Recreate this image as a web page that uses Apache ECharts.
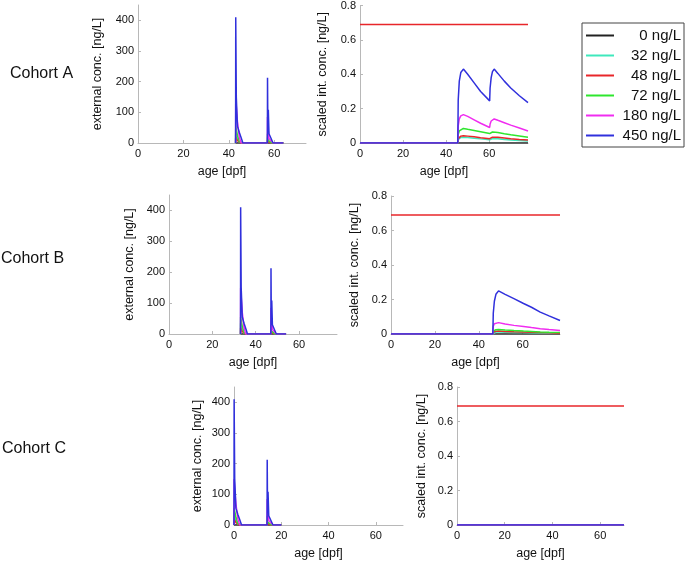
<!DOCTYPE html>
<html><head><meta charset="utf-8">
<script src="https://cdn.jsdelivr.net/npm/echarts@6/dist/echarts.min.js"></script>
<style>html,body{margin:0;padding:0;background:#fff}#c{width:685px;height:561px}</style>
</head><body><div id="c"></div>
<script>
// ---- legend / series ----
const seriesNames = ['0 ng/L', '32 ng/L', '48 ng/L', '72 ng/L', '180 ng/L', '450 ng/L'];
const seriesColors = ['#222222', '#3fe8bc', '#e8262a', '#2ee62e', '#f02cf0', '#3030dc'];
const cohortLabels = ['Cohort A', 'Cohort B', 'Cohort C'];

// ---- external concentration (left panels) ----
const extAgeA = [43, 43.05, 43.3, 43.8, 44.6, 45.4, 46.2, 57, 57.05, 57.2, 57.4, 57.7, 58.5, 59.5, 64];
const extAgeB = [33, 33.05, 33.3, 33.8, 34.6, 35.4, 36.2, 47, 47.05, 47.2, 47.4, 47.7, 48.5, 49.5, 54];
const extAgeC = [0, 0.05, 0.3, 0.8, 1.6, 2.4, 3.2, 14, 14.05, 14.2, 14.4, 14.7, 15.5, 16.5, 20];
const ext0   = [0, 0, 0, 0, 0, 0, 0, 0, 0, 0, 0, 0, 0, 0, 0];
const ext32  = [0, 35, 28, 15, 3, 0, 0, 0, 18, 6, 9, 3, 1, 0, 0];
const ext48  = [0, 20, 15, 8, 2, 0, 0, 0, 10, 4, 5, 2, 1, 0, 0];
const ext72  = [0, 55, 45, 25, 5, 0, 0, 0, 30, 10, 15, 5, 2, 0, 0];
const ext180 = [0, 150, 120, 70, 20, 0, 0, 0, 85, 30, 40, 15, 8, 0, 0];
const ext450 = [0, 410, 150, 55, 35, 18, 0, 0, 213, 40, 108, 30, 25, 0, 0];

// ---- scaled internal concentration (right panels) ----
const intAgeA = [0, 45.4, 45.6, 46.1, 46.8, 48, 50, 53, 56, 60.2, 60.4, 60.9, 61.5, 62.3, 64, 67, 70, 74, 78];
const int0A   = [0, 0, 0, 0, 0, 0, 0, 0, 0, 0, 0, 0, 0, 0, 0, 0, 0, 0, 0];
const int32A  = [0, 0, 0.02, 0.028, 0.032, 0.034, 0.032, 0.028, 0.024, 0.019, 0.021, 0.024, 0.026, 0.027, 0.025, 0.021, 0.018, 0.014, 0.011];
const int48A  = [0, 0, 0.025, 0.035, 0.04, 0.042, 0.04, 0.036, 0.031, 0.025, 0.028, 0.032, 0.034, 0.035, 0.033, 0.029, 0.025, 0.021, 0.018];
const int72A  = [0, 0, 0.05, 0.07, 0.08, 0.085, 0.08, 0.073, 0.066, 0.055, 0.058, 0.062, 0.064, 0.065, 0.061, 0.054, 0.048, 0.041, 0.034];
const int180A = [0, 0, 0.1, 0.14, 0.158, 0.165, 0.155, 0.135, 0.115, 0.09, 0.11, 0.128, 0.136, 0.14, 0.132, 0.118, 0.104, 0.087, 0.07];
const int450A = [0, 0, 0.25, 0.36, 0.41, 0.43, 0.40, 0.35, 0.30, 0.245, 0.32, 0.38, 0.415, 0.43, 0.405, 0.36, 0.32, 0.275, 0.235];

const intAgeB = [0, 46.4, 46.6, 47.1, 47.8, 49, 52, 56, 60.4, 64, 68, 72, 77];
const int0B   = [0, 0, 0, 0, 0, 0, 0, 0, 0, 0, 0, 0, 0];
const int32B  = [0, 0, 0.007, 0.01, 0.011, 0.011, 0.01, 0.009, 0.008, 0.007, 0.006, 0.005, 0.004];
const int48B  = [0, 0, 0.011, 0.015, 0.017, 0.017, 0.015, 0.013, 0.011, 0.01, 0.008, 0.007, 0.005];
const int72B  = [0, 0, 0.016, 0.022, 0.025, 0.026, 0.023, 0.02, 0.017, 0.015, 0.012, 0.01, 0.008];
const int180B = [0, 0, 0.045, 0.06, 0.066, 0.066, 0.058, 0.05, 0.043, 0.037, 0.031, 0.026, 0.021];
const int450B = [0, 0, 0.12, 0.19, 0.23, 0.25, 0.23, 0.205, 0.177, 0.155, 0.127, 0.105, 0.078];

const intAgeC = [0, 70];
const int0C   = [0, 0];
const int32C  = [0, 0];
const int48C  = [0, 0];
const int72C  = [0, 0];
const int180C = [0, 0];
const int450C = [0, 0];

// constant red reference line in the right panels
const refAgeA = [0, 78];
const refAgeB = [0, 77];
const refAgeC = [0, 70];
const refLevel = [0.69, 0.69];

// ---- layout ----
const font = 'Liberation Sans, Arial, sans-serif';
const panels = [
  {left: 138, top: 5,   width: 168, height: 138, xmax: 74,   kind: 'ext', gap: 34},
  {left: 360, top: 5,   width: 168, height: 138, xmax: 78,   kind: 'int', gap: 31},
  {left: 169, top: 195, width: 168, height: 139, xmax: 77.5, kind: 'ext', gap: 33},
  {left: 391, top: 196, width: 169, height: 138, xmax: 77,   kind: 'int', gap: 30},
  {left: 234, top: 387, width: 169, height: 138, xmax: 71.5, kind: 'ext', gap: 30},
  {left: 457, top: 387, width: 167, height: 138, xmax: 70,   kind: 'int', gap: 29}
];
const panelData = [
  {ages: extAgeA, vals: [ext0, ext32, ext48, ext72, ext180, ext450]},
  {ages: intAgeA, vals: [int0A, int32A, int48A, int72A, int180A, int450A], ref: refAgeA},
  {ages: extAgeB, vals: [ext0, ext32, ext48, ext72, ext180, ext450]},
  {ages: intAgeB, vals: [int0B, int32B, int48B, int72B, int180B, int450B], ref: refAgeB},
  {ages: extAgeC, vals: [ext0, ext32, ext48, ext72, ext180, ext450]},
  {ages: intAgeC, vals: [int0C, int32C, int48C, int72C, int180C, int450C], ref: refAgeC}
];

const axisLine = {show: true, lineStyle: {color: '#b8b8b8', width: 1}};
const axisTick = {show: true, inside: true, length: 3, lineStyle: {color: '#b8b8b8'}};
const grid = [], xAxis = [], yAxis = [], series = [];
const pairs = (a, v) => a.map((x, i) => [x, v[i]]);

panels.forEach((p, i) => {
  grid.push({left: p.left, top: p.top, width: p.width, height: p.height, containLabel: false});
  xAxis.push({
    type: 'value', gridIndex: i, min: 0, max: p.xmax, interval: 20,
    name: 'age [dpf]', nameLocation: 'middle', nameGap: 22,
    nameTextStyle: {fontFamily: font, fontSize: 12.5, color: '#111'},
    axisLine, axisTick, splitLine: {show: false},
    axisLabel: {fontFamily: font, fontSize: 11, color: '#111', margin: 5, showMaxLabel: false}
  });
  const isExt = p.kind === 'ext';
  yAxis.push({
    type: 'value', gridIndex: i, min: 0, max: isExt ? 450 : 0.8, interval: isExt ? 100 : 0.2,
    name: isExt ? 'external conc. [ng/L]' : 'scaled int. conc. [ng/L]',
    nameLocation: 'middle', nameGap: p.gap,
    nameTextStyle: {fontFamily: font, fontSize: 12.5, color: '#111'},
    axisLine, axisTick, splitLine: {show: false},
    axisLabel: {fontFamily: font, fontSize: 11, color: '#111', margin: 4, showMaxLabel: !isExt}
  });
  const d = panelData[i];
  d.vals.forEach((v, k) => {
    series.push({
      type: 'line', name: seriesNames[k], xAxisIndex: i, yAxisIndex: i,
      data: pairs(d.ages, v), symbol: 'none', showSymbol: false,
      lineStyle: {width: 1.5, color: seriesColors[k]}, itemStyle: {color: seriesColors[k]},
      z: 2 + k, silent: true
    });
  });
  if (d.ref) {
    series.push({
      type: 'line', name: 'reference', xAxisIndex: i, yAxisIndex: i,
      data: pairs(d.ref, refLevel), symbol: 'none',
      lineStyle: {width: 1.5, color: seriesColors[2]}, z: 10, silent: true
    });
  }
});

const chart = echarts.init(document.getElementById('c'), null, {renderer: 'canvas'});
chart.setOption({
  animation: false,
  backgroundColor: '#fff',
  grid, xAxis, yAxis, series,
  legend: {
    data: seriesNames, orient: 'vertical', left: 582, top: 23,
    itemWidth: 28, itemHeight: 2, icon: 'rect', itemGap: 5, itemTextGap: 5,
    padding: [5, 3, 4, 4], borderColor: '#444', borderWidth: 1,
    formatter: '{a|{name}}',
    textStyle: {fontFamily: font, fontSize: 15, color: '#111',
      rich: {a: {width: 62, align: 'right', fontFamily: font, fontSize: 15, lineHeight: 16}}}
  },
  graphic: [
    {type: 'text', left: 10, top: 66, style: {text: cohortLabels[0], font: '16px ' + font, fill: '#111'}},
    {type: 'text', left: 1,  top: 251, style: {text: cohortLabels[1], font: '16px ' + font, fill: '#111'}},
    {type: 'text', left: 2,  top: 441, style: {text: cohortLabels[2], font: '16px ' + font, fill: '#111'}}
  ]
});
</script></body></html>
